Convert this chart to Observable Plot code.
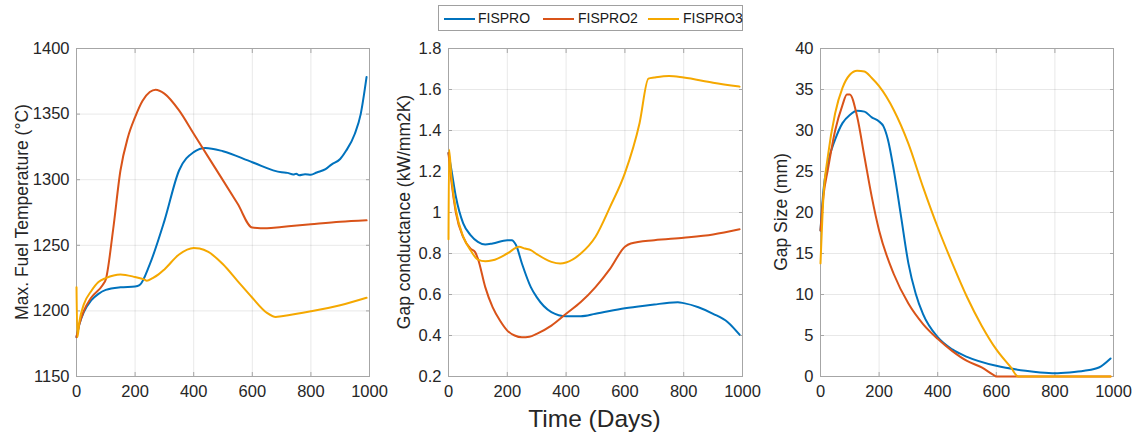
<!DOCTYPE html>
<html>
<head>
<meta charset="utf-8">
<script src="https://cdn.jsdelivr.net/npm/d3@7"></script>
<script src="https://cdn.jsdelivr.net/npm/@observablehq/plot@0.6"></script>
<style>
  html, body { margin: 0; padding: 0; background: #fff; }
  #wrap { position: relative; width: 1137px; height: 439px; font-family: "Liberation Sans", Arial, Helvetica, sans-serif; color: #262626; }
  #wrap svg { position: absolute; top: 0; overflow: visible; }
  #legend { position: absolute; left: 438px; top: 5px; width: 305px; height: 26px; border: 1px solid #a0a0a0; box-sizing: border-box; font-size: 14px; color: #1a1a1a; }
  #legend .sw { position: absolute; top: 11.5px; width: 31px; height: 2px; }
  #legend .tx { position: absolute; top: 4px; line-height: 16px; white-space: nowrap; }
  #xlabel { position: absolute; left: 447px; width: 295px; top: 405px; text-align: center; font-size: 24.5px; color: #262626; }
</style>
</head>
<body>
<div id="wrap"></div>
<script>
const seriesNames = ["FISPRO", "FISPRO2", "FISPRO3"];
const colors = ["#0072BD", "#D95319", "#F5A800"];
const xTicks = [0, 200, 400, 600, 800, 1000];

// Panel 1: Max. Fuel Temperature (°C)
const tempBlueX = [0, 10, 25, 50, 75, 100, 150, 200, 215, 250, 300, 350, 400, 440, 500, 600, 700, 720, 740, 750, 760, 780, 800, 820, 850, 870, 900, 920, 950, 970, 990];
const tempBlueY = [1180, 1190, 1199, 1208, 1213, 1216, 1218, 1218.6, 1219.6, 1235.5, 1268.6, 1307, 1321, 1324.2, 1321.7, 1313.3, 1305.6, 1305.2, 1303.9, 1304.6, 1303.4, 1304.2, 1303.8, 1305.5, 1308, 1311.5, 1315.8, 1322, 1335, 1350, 1378.3];
const tempOrangeX = [0, 10, 25, 50, 90, 100, 125, 150, 175, 200, 225, 250, 270, 300, 350, 400, 450, 500, 550, 600, 650, 700, 800, 900, 990];
const tempOrangeY = [1180, 1190, 1200, 1210, 1220, 1224, 1262, 1307, 1332, 1347.7, 1360, 1366.8, 1368.6, 1365.6, 1352.8, 1335, 1317.2, 1299.5, 1281.6, 1263.5, 1263, 1264, 1266, 1267.9, 1269];
const tempYellowX = [0, 3, 10, 25, 50, 75, 100, 150, 200, 230, 240, 260, 280, 300, 350, 400, 420, 450, 500, 550, 600, 650, 680, 700, 800, 900, 990];
const tempYellowY = [1218, 1180, 1192, 1205, 1215, 1222, 1225, 1227.8, 1225.8, 1224, 1223, 1225, 1227.8, 1231.6, 1243, 1248, 1247.6, 1245, 1235.5, 1222.7, 1210, 1198.5, 1195.4, 1196, 1199.7, 1204.3, 1210];
const tempTicks = [1150, 1200, 1250, 1300, 1350, 1400];

// Panel 2: Gap conductance (kW/mm2K)
const condBlueX = [0, 10, 25, 50, 75, 100, 125, 150, 200, 215, 230, 250, 280, 300, 350, 400, 450, 500, 600, 700, 750, 780, 800, 850, 900, 950, 990];
const condBlueY = [1.29, 1.208, 1.078, 0.947, 0.89, 0.857, 0.844, 0.849, 0.865, 0.865, 0.84, 0.75, 0.636, 0.587, 0.514, 0.494, 0.494, 0.506, 0.533, 0.551, 0.56, 0.562, 0.558, 0.538, 0.506, 0.465, 0.404];
const condOrangeX = [0, 10, 25, 50, 75, 90, 100, 125, 150, 175, 200, 225, 250, 275, 300, 350, 400, 450, 500, 550, 600, 620, 700, 800, 900, 990];
const condOrangeY = [1.29, 1.15, 1.0, 0.88, 0.824, 0.808, 0.775, 0.636, 0.538, 0.473, 0.424, 0.4, 0.391, 0.394, 0.408, 0.448, 0.506, 0.563, 0.636, 0.726, 0.833, 0.849, 0.865, 0.877, 0.893, 0.918];
const condYellowX = [0, 2, 10, 25, 50, 75, 100, 125, 150, 200, 240, 260, 280, 300, 350, 380, 400, 450, 500, 550, 600, 650, 680, 700, 750, 800, 900, 990];
const condYellowY = [0.87, 1.306, 1.17, 1.012, 0.882, 0.816, 0.77, 0.762, 0.767, 0.8, 0.833, 0.824, 0.816, 0.797, 0.759, 0.751, 0.756, 0.8, 0.882, 1.029, 1.192, 1.437, 1.653, 1.658, 1.666, 1.658, 1.633, 1.614];
const condTicks = [0.2, 0.4, 0.6, 0.8, 1, 1.2, 1.4, 1.6, 1.8];

// Panel 3: Gap Size (mm)
const gapBlueX = [0, 10, 25, 50, 75, 100, 125, 150, 175, 200, 215, 230, 250, 275, 300, 325, 350, 400, 450, 500, 600, 700, 750, 800, 850, 900, 950, 990];
const gapBlueY = [17.8, 22.7, 26, 28.9, 30.9, 31.9, 32.4, 32.3, 31.6, 31.1, 30.5, 28.9, 25.2, 19.5, 13.8, 10.1, 7.6, 4.8, 3.3, 2.4, 1.3, 0.7, 0.5, 0.4, 0.5, 0.7, 1.1, 2.2];
const gapOrangeX = [0, 10, 25, 50, 75, 90, 100, 125, 150, 175, 200, 250, 300, 350, 400, 450, 500, 550, 590, 600, 700, 800, 900, 990];
const gapOrangeY = [17.8, 22, 25.2, 30, 33.1, 34.4, 34.4, 31.7, 26.8, 21.9, 17.8, 12.5, 8.9, 6.4, 4.6, 3.1, 1.9, 1.1, 0.2, 0, 0, 0, 0, 0];
const gapYellowX = [0, 10, 25, 50, 75, 100, 125, 150, 175, 200, 250, 300, 350, 400, 450, 500, 550, 600, 650, 675, 700, 800, 900, 990];
const gapYellowY = [13.8, 21.9, 26.8, 32.1, 35.2, 36.8, 37.3, 37.2, 36.4, 35.4, 32.5, 28.4, 23.1, 18.2, 13.8, 9.7, 6.2, 3.3, 1.1, 0, 0, 0, 0, 0];
const gapTicks = [0, 5, 10, 15, 20, 25, 30, 35, 40];

function rows(xs, ys, s) { return xs.map((x, i) => ({x, y: ys[i], s})); }

const panels = [
  {left: 0, width: 380, mL: 76, mR: 11, label: "Max. Fuel Temperature (°C)", labelX: 23, domain: [1150, 1400], ticks: tempTicks,
   data: [rows(tempBlueX, tempBlueY, 0), rows(tempOrangeX, tempOrangeY, 1), rows(tempYellowX, tempYellowY, 2)]},
  {left: 380, width: 380, mL: 68, mR: 18, label: "Gap conductance (kW/mm2K)", labelX: 25, domain: [0.2, 1.8], ticks: condTicks,
   data: [rows(condBlueX, condBlueY, 0), rows(condOrangeX, condOrangeY, 1), rows(condYellowX, condYellowY, 2)]},
  {left: 760, width: 377, mL: 60, mR: 24, label: "Gap Size (mm)", labelX: 22, domain: [0, 40], ticks: gapTicks,
   data: [rows(gapBlueX, gapBlueY, 0), rows(gapOrangeX, gapOrangeY, 1), rows(gapYellowX, gapYellowY, 2)]}
];

const wrap = document.getElementById("wrap");
const fmt = d => String(d);
const none = () => "";
for (const p of panels) {
  const all = p.data.flat();
  const svg = Plot.plot({
    width: p.width,
    height: 410,
    marginLeft: p.mL,
    marginRight: p.mR,
    marginTop: 48,
    marginBottom: 34,
    style: {fontFamily: "Liberation Sans, Arial, Helvetica, sans-serif", fontSize: "16.5px", color: "#262626", background: "transparent"},
    x: {domain: [0, 1000], ticks: xTicks, label: null},
    y: {domain: p.domain, ticks: p.ticks, label: null},
    color: {domain: [0, 1, 2], range: colors},
    marks: [
      Plot.gridX(xTicks, {stroke: "#000", strokeOpacity: 0.09}),
      Plot.gridY(p.ticks, {stroke: "#000", strokeOpacity: 0.09}),
      Plot.axisX({ticks: xTicks, tickSize: -4, tickPadding: 13, fontSize: 16.5, label: null, tickFormat: fmt, stroke: "#a6a6a6"}),
      Plot.axisX({anchor: "top", ticks: xTicks, tickSize: -4, label: null, tickFormat: none, stroke: "#a6a6a6"}),
      Plot.axisY({ticks: p.ticks, tickSize: -4, tickPadding: 11, fontSize: 16.5, label: null, tickFormat: fmt, stroke: "#a6a6a6"}),
      Plot.axisY({anchor: "right", ticks: p.ticks, tickSize: -4, label: null, tickFormat: none, stroke: "#a6a6a6"}),
      Plot.frame({stroke: "#a6a6a6"}),
      Plot.line(all, {x: "x", y: "y", z: "s", stroke: "s", strokeWidth: 2, curve: "monotone-x"})
    ]
  });
  svg.style.left = p.left + "px";
  const t = document.createElementNS("http://www.w3.org/2000/svg", "text");
  const cy = 48 + (410 - 48 - 34) / 2;
  t.setAttribute("transform", `translate(${p.labelX},${cy}) rotate(-90)`);
  t.setAttribute("text-anchor", "middle");
  t.setAttribute("dominant-baseline", "middle");
  t.setAttribute("font-size", "17.5");
  t.setAttribute("fill", "#262626");
  t.textContent = p.label;
  svg.appendChild(t);
  wrap.appendChild(svg);
}

const legend = document.createElement("div");
legend.id = "legend";
const swLeft = [5, 104, 209];
const txLeft = [39, 139, 244];
seriesNames.forEach((n, i) => {
  const sw = document.createElement("div");
  sw.className = "sw";
  sw.style.left = swLeft[i] + "px";
  sw.style.background = colors[i];
  const tx = document.createElement("span");
  tx.className = "tx";
  tx.style.left = txLeft[i] + "px";
  tx.textContent = n;
  legend.appendChild(sw);
  legend.appendChild(tx);
});
wrap.appendChild(legend);

const xl = document.createElement("div");
xl.id = "xlabel";
xl.textContent = "Time (Days)";
wrap.appendChild(xl);
</script>
</body>
</html>
